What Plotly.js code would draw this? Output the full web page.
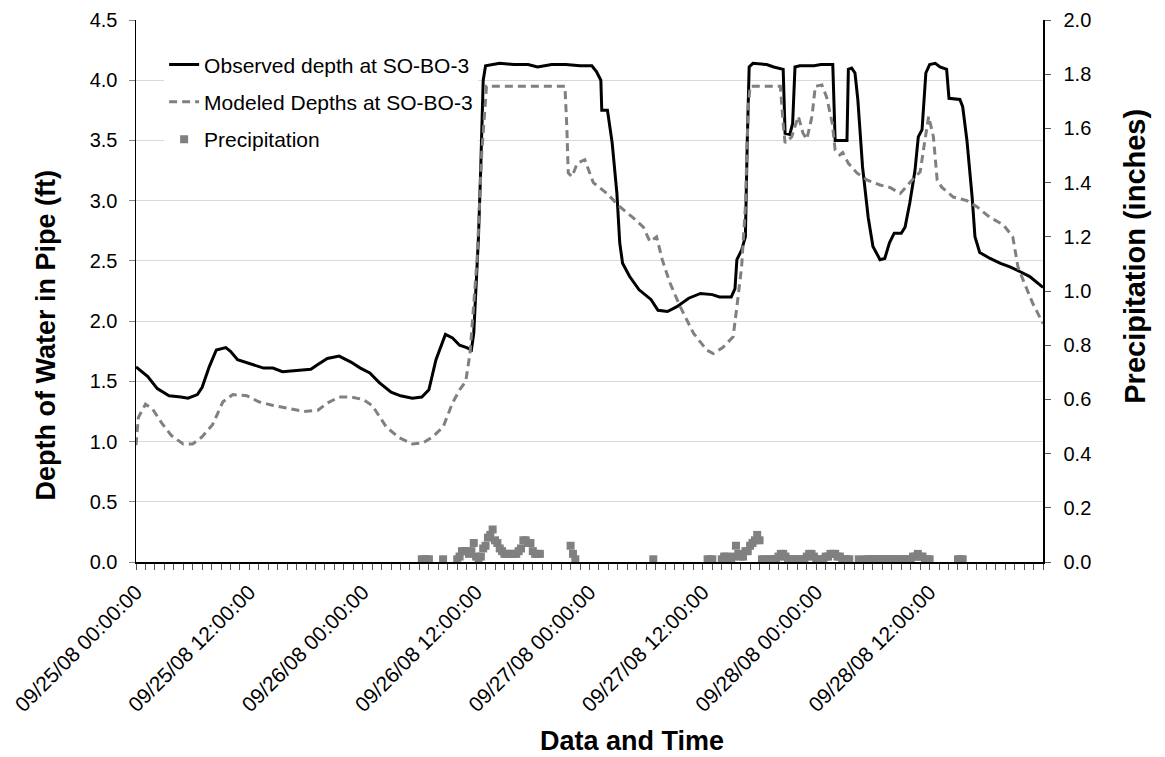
<!DOCTYPE html>
<html>
<head>
<meta charset="utf-8">
<script src="https://cdn.plot.ly/plotly-3.0.1.min.js"></script>
<style>html,body{margin:0;padding:0;background:#fff;}#chart{width:1165px;height:757px;}</style>
</head>
<body>
<div id="chart"></div>
<script>
// Hours after 09/25/08 00:00:00
const obsHours = [0,1.25,2.25,3.5,4.75,5.5,6.5,7,7.75,8.5,9.5,10,10.75,12,13.5,14.5,15.5,17,18.5,19.25,20.25,21.5,22.75,23.75,24.75,25.75,27,28,29.25,30.25,31,31.75,32.75,33.5,34.25,35,35.5,35.75,36,36.25,36.5,36.75,37,38.5,40,41.5,42.5,44,45.5,47,48.25,48.75,49.2,49.3,49.9,50.4,50.9,51.2,51.5,52.25,53.25,54.5,55.25,56.25,57.25,58.5,59.75,61,61.75,63,63.4,63.6,64.1,64.5,64.7,64.9,65.3,66.75,67.5,68.2,68.5,68.7,69.2,69.5,69.75,70.25,71.75,72.5,73.75,74.0,75.25,75.4,75.75,76.1,76.4,76.9,77.5,78,78.75,79.25,79.75,80.25,81,81.4,81.9,82.45,82.8,83.2,83.6,84,84.6,85.1,85.8,86.05,87.2,87.5,87.95,88.5,88.8,89.3,90.4,91.5,92.5,93.6,94.6,96];
const observedDepth = [1.62,1.54,1.44,1.38,1.37,1.36,1.39,1.45,1.62,1.76,1.78,1.75,1.68,1.65,1.61,1.61,1.58,1.59,1.60,1.64,1.69,1.71,1.66,1.61,1.57,1.49,1.41,1.38,1.36,1.37,1.43,1.68,1.89,1.86,1.80,1.78,1.76,1.90,2.30,2.70,3.30,4.00,4.12,4.14,4.13,4.13,4.11,4.13,4.13,4.12,4.12,4.07,4.00,3.75,3.75,3.48,3.06,2.65,2.48,2.37,2.26,2.18,2.09,2.08,2.12,2.19,2.23,2.22,2.20,2.20,2.27,2.51,2.59,2.70,3.50,4.11,4.14,4.13,4.11,4.10,4.09,3.56,3.55,3.64,4.11,4.12,4.12,4.13,4.13,3.50,3.50,4.09,4.10,4.06,3.84,3.28,2.86,2.62,2.51,2.52,2.65,2.73,2.73,2.78,2.98,3.25,3.53,3.59,4.06,4.13,4.14,4.11,4.09,3.85,3.84,3.78,3.50,3.03,2.70,2.57,2.52,2.48,2.45,2.41,2.37,2.28];

const modHours = [0,0.25,1,1.75,2.75,3.75,5,6,7,8.1,9.2,10.25,11.75,13,14.5,16.25,17.75,19.25,20.25,21.5,22.75,24,25,26.5,27.9,29.25,30.4,31.4,32.5,33.5,34.25,34.9,35.35,36.1,36.6,37.1,45.4,45.6,45.75,46.15,46.7,47.5,47.8,48.4,49.85,51.2,52.6,53.7,54.4,55.1,55.7,56.5,57.6,59,60.4,61.1,62.1,63.2,63.6,64.1,64.5,64.8,65,68.2,68.5,68.7,69.4,70.1,70.6,71,71.55,71.9,72.6,73.1,73.7,74,74.5,74.8,75.4,76.3,77.4,78.75,79.8,80.9,81.9,83,83.5,83.9,84.4,84.8,85.3,86.5,87.95,89,90.4,91.8,92.8,93.35,93.9,94.9,96];
const modeledDepth = [0.97,1.20,1.31,1.27,1.15,1.05,0.98,0.98,1.04,1.14,1.33,1.39,1.38,1.33,1.30,1.27,1.25,1.26,1.32,1.37,1.37,1.35,1.30,1.12,1.03,0.98,0.99,1.04,1.12,1.32,1.43,1.50,1.73,2.51,3.40,3.95,3.95,3.61,3.23,3.20,3.31,3.34,3.28,3.15,3.06,2.95,2.86,2.78,2.66,2.70,2.51,2.32,2.12,1.90,1.76,1.73,1.78,1.87,2.12,2.45,2.95,3.78,3.95,3.95,3.64,3.48,3.53,3.70,3.56,3.51,3.70,3.95,3.96,3.86,3.64,3.42,3.38,3.40,3.31,3.23,3.17,3.13,3.11,3.06,3.15,3.24,3.50,3.70,3.53,3.17,3.11,3.03,3.00,2.95,2.86,2.80,2.70,2.45,2.34,2.15,1.98];

const precipHours = [30.25,30.5,30.75,31,32.5,34,34.25,34.5,34.75,35,35.25,35.5,35.75,36,36.25,36.5,36.75,37,37.25,37.5,37.75,38,38.25,38.5,38.75,39,39.25,39.5,39.75,40,40.25,40.5,40.75,41,41.25,41.5,41.75,42,42.25,42.5,42.75,46,46.25,46.5,54.75,60.5,60.75,61,62,62.25,62.5,62.75,63,63.25,63.5,63.75,64,64.25,64.5,64.75,65,65.25,65.5,65.75,66,66.25,66.5,67,67.25,67.5,67.75,68,68.25,68.5,68.75,69,69.25,69.5,69.75,70,70.25,70.5,70.75,71,71.25,71.5,71.75,72,72.25,72.75,73,73.25,73.5,73.75,74,74.25,74.5,74.75,75,75.25,75.5,76.5,77.25,77.5,77.75,78,78.25,78.5,78.75,79,79.25,79.5,79.75,80,80.25,80.5,80.75,81,81.25,81.5,81.75,82,82.25,82.5,82.75,83,83.25,83.5,83.75,84,87,87.25,87.5];
const precipInches = [0.01,0.01,0.01,0.01,0.01,0.01,0.02,0.04,0.04,0.04,0.03,0.04,0.07,0.02,0.01,0.02,0.05,0.06,0.09,0.10,0.12,0.08,0.07,0.05,0.04,0.03,0.03,0.03,0.03,0.03,0.03,0.04,0.05,0.08,0.08,0.07,0.07,0.04,0.03,0.03,0.03,0.06,0.03,0.01,0.01,0.01,0.01,0.01,0.01,0.02,0.02,0.01,0.01,0.02,0.06,0.03,0.02,0.02,0.04,0.04,0.06,0.07,0.08,0.10,0.08,0.01,0.01,0.01,0.01,0.01,0.01,0.02,0.03,0.03,0.02,0.01,0.01,0.01,0.01,0.01,0.01,0.01,0.01,0.02,0.03,0.03,0.02,0.01,0.01,0.01,0.02,0.02,0.03,0.03,0.03,0.02,0.02,0.01,0.01,0.01,0.01,0.01,0.01,0.01,0.01,0.01,0.01,0.01,0.01,0.01,0.01,0.01,0.01,0.01,0.01,0.01,0.01,0.01,0.01,0.01,0.01,0.01,0.02,0.02,0.03,0.02,0.02,0.01,0.01,0.01,0.01,0.01,0.01,0.01];

const tickHours = [0,12,24,36,48,60,72,84];
const tickLabels = ["09/25/08 00:00:00","09/25/08 12:00:00","09/26/08 00:00:00","09/26/08 12:00:00","09/27/08 00:00:00","09/27/08 12:00:00","09/28/08 00:00:00","09/28/08 12:00:00"];

const FONT = 'Arial, "Liberation Sans", sans-serif';

const traces = [
  {x: obsHours, y: observedDepth, type: 'scatter', mode: 'lines', name: 'Observed depth at SO-BO-3',
   line: {color: '#000000', width: 3}, legendgroup: 'a'},
  {x: modHours, y: modeledDepth, type: 'scatter', mode: 'lines', name: 'Modeled Depths at SO-BO-3',
   line: {color: '#808080', width: 3, dash: '8px,5px'}, legendgroup: 'b'},
  {x: precipHours, y: precipInches, type: 'scatter', mode: 'markers', name: 'Precipitation', yaxis: 'y2',
   marker: {symbol: 'square', size: 8, color: '#808080'}, legendgroup: 'c'}
];

const layout = {
  width: 1165, height: 757, autosize: false,
  margin: {l: 136, r: 122, t: 20, b: 195, pad: 0},
  paper_bgcolor: '#ffffff', plot_bgcolor: '#ffffff',
  font: {family: FONT, size: 20, color: '#000'},
  showlegend: true,
  legend: {x: 0.031, y: 0.955, xanchor: 'left', yanchor: 'top', bgcolor: '#ffffff', borderwidth: 0,
           font: {family: FONT, size: 21, color: '#000'}, tracegroupgap: 7},
  xaxis: {range: [0, 96], tickmode: 'array', tickvals: tickHours, ticktext: tickLabels, tickangle: -45,
          ticks: 'outside', ticklen: 6, tickcolor: '#555', tickwidth: 1, ticklabelstandoff: 2,
          minor: {tickmode: 'linear', tick0: 0, dtick: 1, ticks: 'outside', ticklen: 6, tickcolor: '#555', tickwidth: 1, showgrid: false},
          showline: true, linecolor: '#000', linewidth: 1.5, showgrid: false, zeroline: false,
          tickfont: {family: FONT, size: 21, color: '#000'}},
  yaxis: {range: [0, 4.5], dtick: 0.5, tick0: 0, tickformat: '.1f', ticks: 'outside', ticklen: 6, tickcolor: '#888',
          ticklabelstandoff: 7,
          showline: true, linecolor: '#000', linewidth: 1.5, showgrid: true, gridcolor: '#d9d9d9', gridwidth: 1,
          zeroline: false, tickfont: {family: FONT, size: 20, color: '#000'}},
  yaxis2: {range: [0, 2.0], dtick: 0.2, tick0: 0, tickformat: '.1f', overlaying: 'y', side: 'right', anchor: 'x',
           ticks: 'outside', ticklen: 6, tickcolor: '#555', showline: true, linecolor: '#000', linewidth: 1.5,
           ticklabelstandoff: 9,
           showgrid: false, zeroline: false, tickfont: {family: FONT, size: 20, color: '#000'}},
  annotations: [
    {text: '<b>Data and Time</b>', xref: 'paper', yref: 'paper', x: 0.547, y: -0.330, xanchor: 'center', yanchor: 'middle',
     showarrow: false, font: {family: FONT, size: 27, color: '#000'}},
    {text: '<b>Depth of Water in Pipe (ft)</b>', xref: 'paper', yref: 'paper', x: -0.0992, y: 0.418, xanchor: 'center', yanchor: 'middle',
     textangle: -90, showarrow: false, font: {family: FONT, size: 27, color: '#000'}},
    {text: '<b>Precipitation (inches)</b>', xref: 'paper', yref: 'paper', x: 1.1014, y: 0.565, xanchor: 'center', yanchor: 'middle',
     textangle: -90, showarrow: false, font: {family: FONT, size: 29, color: '#000'}}
  ]
};

Plotly.newPlot('chart', traces, layout, {displayModeBar: false, staticPlot: true});
</script>
</body>
</html>
